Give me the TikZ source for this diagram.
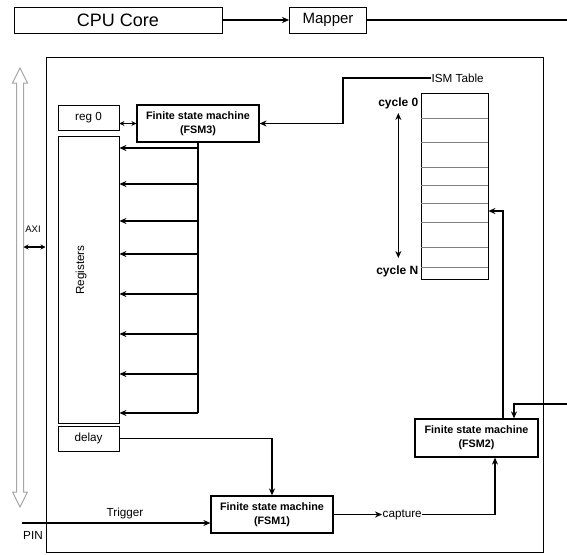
\documentclass[tikz,border=0pt]{standalone}
\usepackage{fontspec}
\setmainfont{Liberation Sans}
\usetikzlibrary{arrows.meta}
\begin{document}
\begin{tikzpicture}[x=1pt,y=-1pt,>={Stealth[length=7pt,width=6pt]},line width=1.3pt]
  \tikzstyle{every node}=[inner sep=0pt,font=\fontsize{11.7}{14}\selectfont]
  \tikzstyle{box}=[draw,line width=0.8pt]
  \tikzstyle{fsm}=[draw,line width=1.2pt,minimum width=122pt,minimum height=37pt,align=center,font=\fontsize{10.8}{14}\selectfont\bfseries]
  \tikzstyle{small}=[{Stealth[length=5pt,width=5pt]}-{Stealth[length=5pt,width=5pt]}]
  \useasboundingbox (0,0) rectangle (567,554);
  \node (cpu) [box,minimum width=208pt,minimum height=26pt,font=\fontsize{18}{20}\selectfont] at (118,20) {CPU Core};
  \node (mapper) [box,minimum width=77pt,minimum height=26pt,font=\fontsize{15}{18}\selectfont] at (328,20) {Mapper};
  \node (fpga) [draw,line width=1pt,minimum width=497pt,minimum height=495pt] at (294.5,304.5) {};
  \node (reg0) [box,minimum width=61pt,minimum height=25pt] at (88.5,117.5) {reg 0};
  \node (regs) [box,minimum width=61pt,minimum height=287pt] at (88.5,279.5) {};
  \node (regstxt) [rotate=90] at (81,270) {Registers};
  \node (delay) [box,minimum width=61pt,minimum height=25pt] at (88.5,438.5) {delay};
  \node (fsm3) [fsm] at (198,123.5) {Finite state machine\\(FSM3)};
  \node (fsm2) [fsm,minimum width=123pt,minimum height=38pt] at (476.5,438) {Finite state machine\\(FSM2)};
  \node (fsm1) [fsm] at (272,514.5) {Finite state machine\\(FSM1)};
  \node (ism) [box,minimum width=67pt,minimum height=186pt] at (454.5,186) {};
  \foreach \y in {118,142,167,185,203,222,247,267}
    \draw [gray,line width=0.6pt] (ism.west |- 0,\y) -- (ism.east |- 0,\y);
  \node (ismlbl) [anchor=west] at (431,78) {ISM Table};
  \node (c0) [anchor=east,font=\fontsize{12}{14}\selectfont\bfseries] at (419,103) {cycle 0};
  \node (cN) [anchor=east,font=\fontsize{12}{14}\selectfont\bfseries] at (419,271) {cycle N};
  \node (axilbl) [font=\fontsize{9.5}{11}\selectfont] at (33,229) {AXI};
  \node (trig) at (125,513) {Trigger};
  \node (pinlbl) at (33,535) {PIN};
  \node (capt) [anchor=west] at (382,514.5) {capture};
  \coordinate (pin) at (22,523);
  \coordinate (axi) at (23.5,247);
  \draw [gray!70,line width=1pt] (20,68) -- (27.5,83) -- (23.5,83) -- (23.5,492) -- (27.5,492) -- (20,507)
    -- (12.5,492) -- (16.5,492) -- (16.5,83) -- (12.5,83) -- cycle;
  \draw [small] (axi) -- (fpga.west |- axi);
  \draw [->] (cpu) -- (mapper);
  \draw [->] (mapper.east) -| (600,404) -| ([xshift=37.5pt]fsm2.north);
  \draw [->] (ismlbl.west) -| (343,100) |- (fsm3.east);
  \draw [small] (reg0.east |- fsm3.west) -- (fsm3.west);
  \draw (fsm3.south) -- (fsm3.south |- 0,413);
  \foreach \y in {148,184,221,254,294,334,374,413}
    \draw [->] (fsm3.south |- 0,\y) -- (regs.east |- 0,\y);
  \draw [<->] (c0.south |- 0,113) -- (c0.south |- 0,258);
  \draw [->] ([xshift=26.5pt]fsm2.north) |- (ism.east |- 0,211);
  \draw [->] (delay.east) -| (fsm1.north);
  \draw [->] (pin) -- (fsm1.west |- pin);
  \draw [->] (fsm1.east) -- (capt.west);
  \draw [->] (capt.east) -| ([xshift=18.5pt]fsm2.south);
\end{tikzpicture}
\end{document}
